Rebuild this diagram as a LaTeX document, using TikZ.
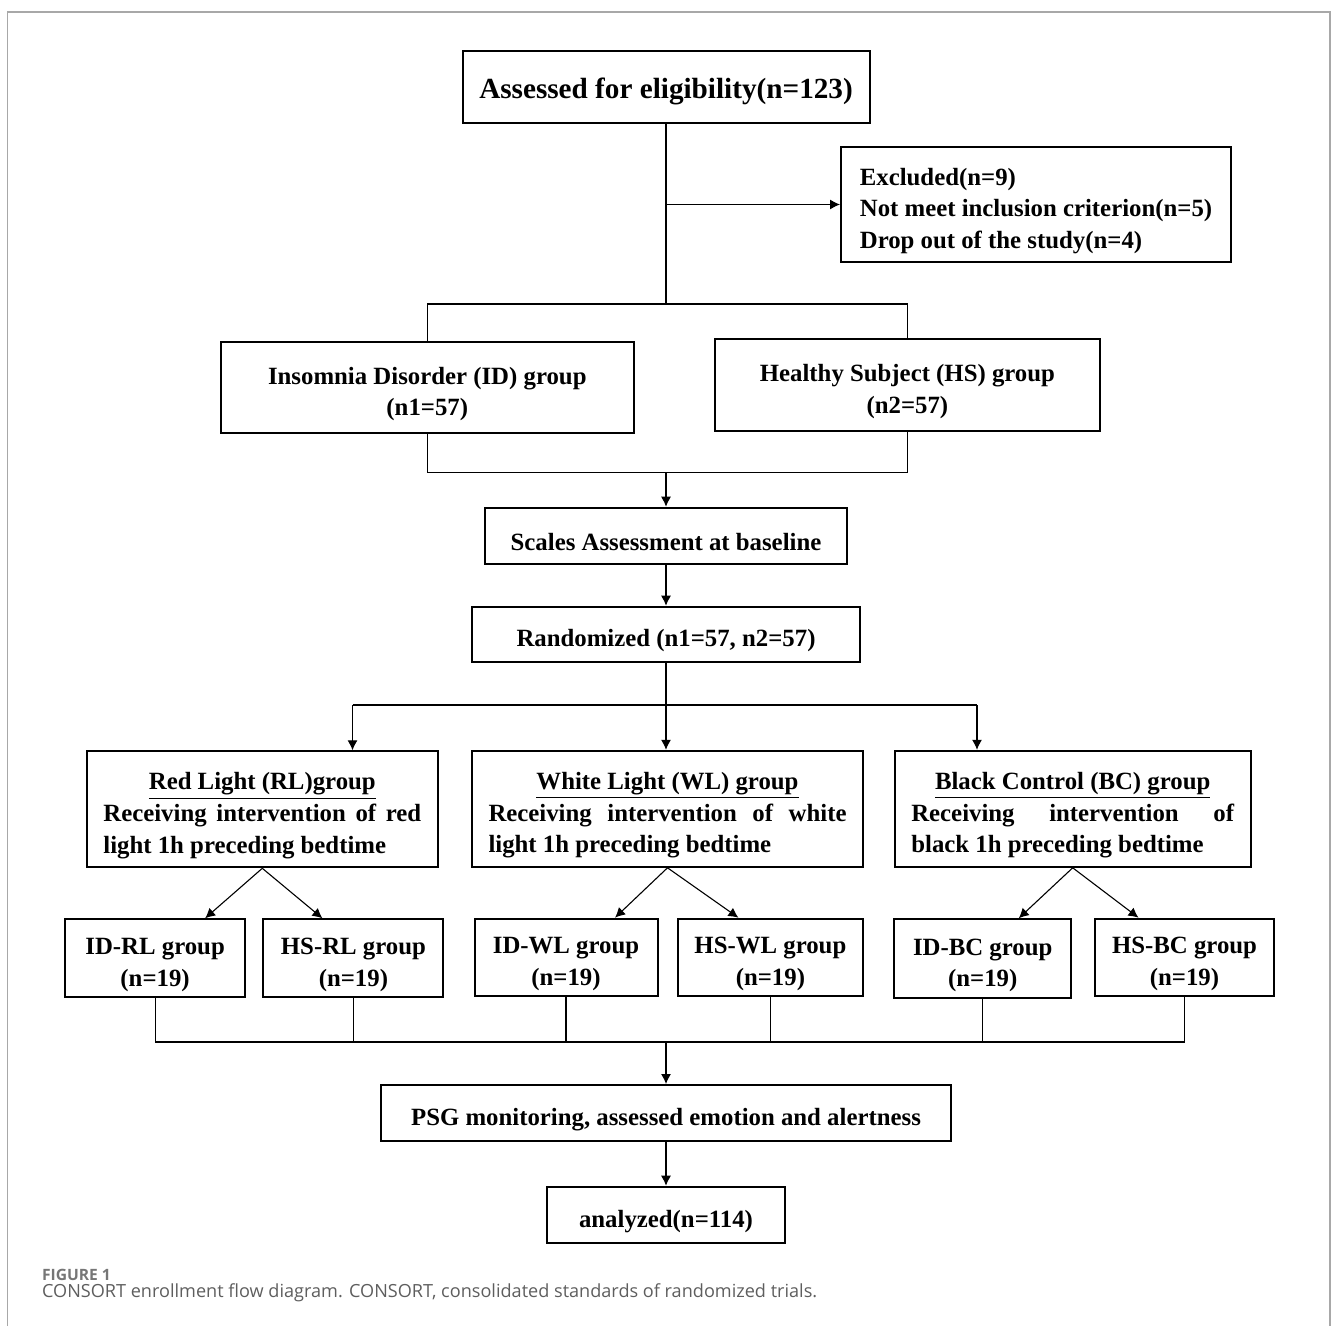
\documentclass[tikz,border=0pt]{standalone}
\usepackage{fontspec}
\setmainfont{Liberation Serif}
\newfontfamily\captionsans{Open Sans}
\usepackage{xcolor}
\usetikzlibrary{arrows.meta, calc}

\definecolor{framegray}{HTML}{A8A8A8}
\definecolor{capgray}{HTML}{5E5E5E}

% taller first line, so the text sits a little low in its box
\newcommand{\lowtext}{\rule{0pt}{15pt}}

\begin{document}
\begin{tikzpicture}[ x = 0.5pt, y = -0.5pt
                   , font = \bfseries\fontsize{12.4}{15.8}\selectfont
                   , >={Latex[width=5pt, length=5pt]}
                   , box/.style = { rectangle
                                  , draw = black
                                  , line width = 1pt
                                  , align = center
                                  , inner sep = 0pt }
                   , armbox/.style = { box
                                     , align = justify
                                     , minimum height = 58pt
                                     , inner xsep = 8.4pt }
                   , subbox/.style = { box
                                     , minimum height = 38.7pt }
                   , line/.style = { line width = 0.55pt }
                   , caption/.style = { anchor = base west
                                      , inner sep = 0pt
                                      , text = capgray }
                   ]

  \useasboundingbox (0,0) rectangle (1331,1326);
  \draw[framegray, line width = 0.8pt] (7.3,1326) -- (7.3,12.3) -- (1330,12.3) -- (1330,1326);

  % enrollment
  \node (assessed) [box, minimum width = 203.5pt, minimum height = 36pt
                   , font = \bfseries\fontsize{14.6}{17}\selectfont] at (666,87)
    {\lowtext Assessed for eligibility(n=123)};
  \node (excluded) [box, align = left, minimum width = 195pt
                   , minimum height = 57.8pt] at (1036,204.5)
    {\lowtext Excluded(n=9)\\Not meet inclusion criterion(n=5)\\Drop out of the study(n=4)};

  \node (idgroup) [box, minimum width = 206.8pt, minimum height = 45.8pt] at (427.3,387.5)
    {\lowtext Insomnia Disorder (ID) group\\(n1=57)};
  \node (hsgroup) [box, minimum width = 192.6pt, minimum height = 45.8pt] at (907.4,385.2)
    {\lowtext Healthy Subject (HS) group\\(n2=57)};

  \node (scales) [box, minimum width = 180.6pt, minimum height = 28pt] at (666,535.7)
    {\lowtext Scales Assessment at baseline};
  \node (randomized) [box, minimum width = 193.6pt, minimum height = 27.8pt] at (666,634.5)
    {\lowtext Randomized (n1=57, n2=57)};

  % allocation
  \node (redlight) [armbox, text width = 158.9pt] at (262.3,809.3)
    {{\centering\lowtext\underline{Red Light (RL)group}\par}Receiving intervention of red\linebreak light 1h preceding bedtime};
  \node (whitelight) [armbox, text width = 179pt] at (667.5,808.8)
    {{\centering\lowtext\underline{White Light (WL) group}\par}Receiving intervention of white\linebreak light 1h preceding bedtime};
  \node (blackctrl) [armbox, text width = 161.4pt] at (1072.7,808.8)
    {{\centering\lowtext\underline{Black Control (BC) group}\par}Receiving intervention of\linebreak black 1h preceding bedtime};

  \node (idrl) [subbox, minimum width = 89.9pt] at (155.1,958) {\lowtext ID-RL group\\(n=19)};
  \node (hsrl) [subbox, minimum width = 90pt] at (353.4,958) {\lowtext HS-RL group\\(n=19)};
  \node (idwl) [subbox, minimum width = 91.5pt] at (566,957.4) {\lowtext ID-WL group\\(n=19)};
  \node (hswl) [subbox, minimum width = 92.9pt] at (770.4,957.4) {\lowtext HS-WL group\\(n=19)};
  \node (idbc) [subbox, minimum width = 88.3pt, minimum height = 39.2pt] at (982.7,958.5) {\lowtext ID-BC group\\(n=19)};
  \node (hsbc) [subbox, minimum width = 89.5pt] at (1184.5,957.4) {\lowtext HS-BC group\\(n=19)};

  % follow-up
  \node (psg) [box, minimum width = 285.3pt, minimum height = 27.9pt] at (666,1112.9)
    {\lowtext PSG monitoring, assessed emotion and alertness};
  \node (analyzed) [box, minimum width = 119pt, minimum height = 28pt] at (666,1214.7)
    {\lowtext analyzed(n=114)};

  \node (figlabel) [caption, text = capgray!85, font = \captionsans\bfseries\fontsize{7.8}{8}\selectfont] at (41.7,1280)
    {FIGURE 1};
  \node (figcaption) [caption, font = \captionsans\mdseries\fontsize{9.05}{10}\selectfont] at (41.7,1297)
    {CONSORT enrollment flow diagram. CONSORT, consolidated standards of randomized trials.};

  % connectors
  \coordinate (split) at (666,304);
  \coordinate (merge) at (666,472.3);
  \coordinate (dist) at (666,705);
  \coordinate (distl) at (352.5,705);
  \coordinate (distr) at (977,705);
  \coordinate (collect) at (666,1042);

  \draw[line] (assessed.south) -- (split);
  \draw[line, ->] (assessed.south |- excluded.west) -- (excluded.west);
  \draw[line] (idgroup.north) -- (idgroup.north |- split) -- (hsgroup.north |- split) -- (hsgroup.north);
  \draw[line] (idgroup.south) -- (idgroup.south |- merge) -- (hsgroup.south |- merge) -- (hsgroup.south);
  \draw[line, ->] (merge) -- (scales.north);
  \draw[line, ->] (scales.south) -- (randomized.north);

  \draw[line] (randomized.south) -- (dist);
  \draw[line] (distl) -- (distr);
  \draw[line, ->] (distl) -- (distl |- redlight.north);
  \draw[line, ->] (dist) -- (dist |- whitelight.north);
  \draw[line, ->] (distr) -- (distr |- blackctrl.north);

  \draw[line, ->] (redlight.south) -- ([xshift = 25pt]idrl.north);
  \draw[line, ->] (redlight.south) -- ([xshift = -15.5pt]hsrl.north);
  \draw[line, ->] (whitelight.south) -- ([xshift = 24.5pt]idwl.north);
  \draw[line, ->] (whitelight.south) -- ([xshift = -16pt]hswl.north);
  \draw[line, ->] (blackctrl.south) -- ([xshift = 18pt]idbc.north);
  \draw[line, ->] (blackctrl.south) -- ([xshift = -23pt]hsbc.north);

  \foreach \grp in {idrl, hsrl, idwl, hswl, idbc, hsbc}
    \draw[line] (\grp.south) -- (\grp.south |- collect);
  \draw[line] (idrl.south |- collect) -- (hsbc.south |- collect);
  \draw[line, ->] (collect) -- (psg.north);
  \draw[line, ->] (psg.south) -- (analyzed.north);

\end{tikzpicture}
\end{document}
